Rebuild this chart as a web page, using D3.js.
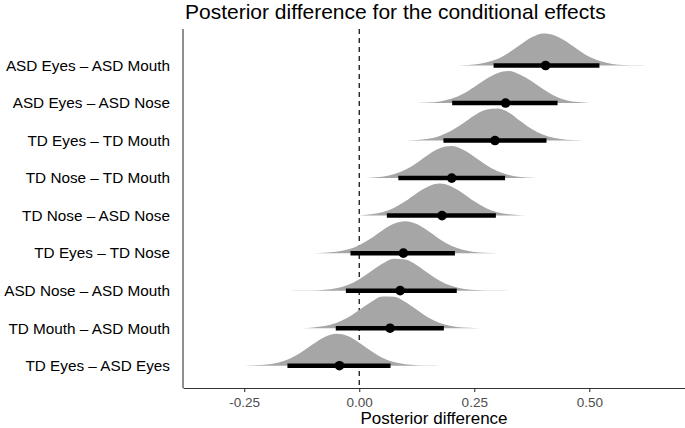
<!DOCTYPE html>
<html>
<head>
<meta charset="utf-8">
<script src="https://cdn.jsdelivr.net/npm/d3@7"></script>
<style>
  body { margin: 0; background: #fff; }
  svg { display: block; font-family: "Liberation Sans", Arial, sans-serif; }
</style>
</head>
<body>
<div id="viz"></div>
<script>
// comparisons, top to bottom
const labels = [
  "ASD Eyes \u2013 ASD Mouth",
  "ASD Eyes \u2013 ASD Nose",
  "TD Eyes \u2013 TD Mouth",
  "TD Nose \u2013 TD Mouth",
  "TD Nose \u2013 ASD Nose",
  "TD Eyes \u2013 TD Nose",
  "ASD Nose \u2013 ASD Mouth",
  "TD Mouth \u2013 ASD Mouth",
  "TD Eyes \u2013 ASD Eyes"
];
const medians = [0.405, 0.318, 0.295, 0.201, 0.180, 0.096, 0.089, 0.067, -0.043];
const lower   = [0.292, 0.202, 0.183, 0.085, 0.060, -0.019, -0.029, -0.051, -0.156];
const upper   = [0.522, 0.431, 0.407, 0.317, 0.297, 0.208, 0.212, 0.184, 0.068];

// density grid (x values) and relative heights read from the slabs
const gridX = [-0.250, -0.225, -0.200, -0.175, -0.150, -0.125, -0.100, -0.075, -0.050, -0.025,
                0.000,  0.025,  0.050,  0.075,  0.100,  0.125,  0.150,  0.175,  0.200,  0.225,
                0.250,  0.275,  0.300,  0.325,  0.350,  0.375,  0.400,  0.425,  0.450,  0.475,
                0.500,  0.525,  0.550,  0.575,  0.600,  0.625];
const dens1 = [0,0,0,0,0,0,0,0,0,0, 0,0,0,0,0,0,0,0,0,0.01, 0.03,0.09,0.20,0.40,0.65,0.88,1.00,0.94,0.75,0.50, 0.27,0.13,0.05,0.016,0.004,0];
const dens2 = [0,0,0,0,0,0,0,0,0,0, 0,0,0,0,0,0,0.015,0.05,0.13,0.28, 0.50,0.74,0.93,1.00,0.88,0.68,0.43,0.22,0.09,0.03, 0,0,0,0,0,0];
const dens3 = [0,0,0,0,0,0,0,0,0,0, 0,0,0,0,0.005,0.02,0.058,0.145,0.305,0.535, 0.785,0.96,1.00,0.88,0.61,0.36,0.18,0.076,0.026,0.008, 0,0,0,0,0,0];
const dens4 = [0,0,0,0,0,0,0,0,0,0, 0,0.014,0.045,0.118,0.26,0.475,0.73,0.93,1.00,0.89, 0.67,0.42,0.22,0.095,0.035,0.011,0.003,0,0,0, 0,0,0,0,0,0];
const dens5 = [0,0,0,0,0,0,0,0,0,0, 0,0.04,0.106,0.237,0.446,0.70,0.91,1.00,0.91,0.70, 0.446,0.237,0.106,0.04,0.012,0,0,0,0,0, 0,0,0,0,0,0];
const dens6 = [0,0,0,0,0,0,0,0.013,0.041,0.11, 0.244,0.455,0.71,0.92,1.00,0.91,0.69,0.436,0.231,0.102, 0.038,0.012,0,0,0,0,0,0,0,0, 0,0,0,0,0,0];
const dens7 = [0,0,0,0,0,0.002,0.007,0.025,0.073,0.176, 0.354,0.60,0.84,1.00,0.97,0.795,0.545,0.313,0.15,0.06, 0.02,0.006,0.002,0,0,0,0,0,0,0, 0,0,0,0,0,0];
const dens8 = [0,0,0,0,0,0,0.022,0.065,0.16,0.33, 0.57,0.81,0.99,0.98,0.82,0.576,0.337,0.165,0.068,0.023, 0.007,0,0,0,0,0,0,0,0,0, 0,0,0,0,0,0];
const dens9 = [0,0.011,0.036,0.098,0.225,0.427,0.678,0.90,1.00,0.927, 0.718,0.465,0.252,0.114,0.043,0.013,0.0035,0,0,0, 0,0,0,0,0,0,0,0,0,0, 0,0,0,0,0,0];
const densities = [dens1, dens2, dens3, dens4, dens5, dens6, dens7, dens8, dens9];
const xTicks = [-0.25, 0, 0.25, 0.5];

const WIDTH = 685, HEIGHT = 428;
const panelLeft = 183, panelRight = 685, panelTop = 29, panelBottom = 388;

const svg = d3.select("#viz").append("svg")
  .attr("width", WIDTH)
  .attr("height", HEIGHT);

const x = d3.scaleLinear().domain([-0.383, 0.708]).range([panelLeft, panelRight]);
const y = d3.scalePoint().domain(labels).range([65.5, 365.7]);
const h = d3.scaleLinear().domain([0, 1]).range([0, 32]);

// reference line at zero
svg.append("line")
  .attr("x1", x(0)).attr("x2", x(0))
  .attr("y1", panelTop).attr("y2", panelBottom)
  .attr("stroke", "#000")
  .attr("stroke-width", 1.2)
  .attr("stroke-dasharray", "5,4");

const area = d3.area()
  .x(d => x(d[0]))
  .y0(d => d[2])
  .y1(d => d[2] - h(d[1]))
  .curve(d3.curveMonotoneX);

labels.forEach((lab, i) => {
  const d = densities[i];
  let a = d.findIndex(v => v > 0), b = d.length - 1;
  while (b > 0 && d[b] === 0) b--;
  a = Math.max(0, a - 1); b = Math.min(d.length - 1, b + 1);
  const pts = [];
  for (let k = a; k <= b; k++) pts.push([gridX[k], d[k], y(lab)]);
  svg.append("path")
    .datum(pts)
    .attr("d", area)
    .attr("fill", "#a6a6a6");
});

svg.selectAll(".interval")
  .data(labels)
  .join("line")
  .attr("class", "interval")
  .attr("x1", (d, i) => x(lower[i]))
  .attr("x2", (d, i) => x(upper[i]))
  .attr("y1", d => y(d))
  .attr("y2", d => y(d))
  .attr("stroke", "#000")
  .attr("stroke-width", 4.5);

svg.selectAll(".pt")
  .data(labels)
  .join("circle")
  .attr("class", "pt")
  .attr("cx", (d, i) => x(medians[i]))
  .attr("cy", d => y(d))
  .attr("r", 4.8)
  .attr("fill", "#000");

// x axis
const xAxis = svg.append("g")
  .attr("transform", `translate(0,${panelBottom})`)
  .call(d3.axisBottom(x).tickValues(xTicks).tickFormat(d => d.toFixed(2)).tickSize(4).tickSizeOuter(0));
xAxis.select(".domain").attr("stroke", "#333").attr("stroke-width", 1.1);
xAxis.selectAll(".tick line").attr("stroke", "#333").attr("stroke-width", 1.1);
xAxis.selectAll(".tick text")
  .attr("fill", "#4d4d4d")
  .attr("font-size", "13.5px")
  .attr("dy", "0.9em");

// y axis line and labels
svg.append("line")
  .attr("x1", panelLeft).attr("x2", panelLeft)
  .attr("y1", panelTop).attr("y2", panelBottom)
  .attr("stroke", "#333")
  .attr("stroke-width", 1.1);

svg.selectAll(".ylab")
  .data(labels)
  .join("text")
  .attr("class", "ylab")
  .attr("x", 170)
  .attr("y", d => y(d))
  .attr("dy", "0.35em")
  .attr("text-anchor", "end")
  .attr("font-size", "15.3px")
  .attr("fill", "#000")
  .text(d => d);

svg.append("text")
  .attr("x", (panelLeft + panelRight) / 2)
  .attr("y", 424)
  .attr("text-anchor", "middle")
  .attr("font-size", "17px")
  .attr("fill", "#000")
  .text("Posterior difference");

svg.append("text")
  .attr("x", 185)
  .attr("y", 19)
  .attr("font-size", "21px")
  .attr("fill", "#000")
  .text("Posterior difference for the conditional effects");
</script>
</body>
</html>
